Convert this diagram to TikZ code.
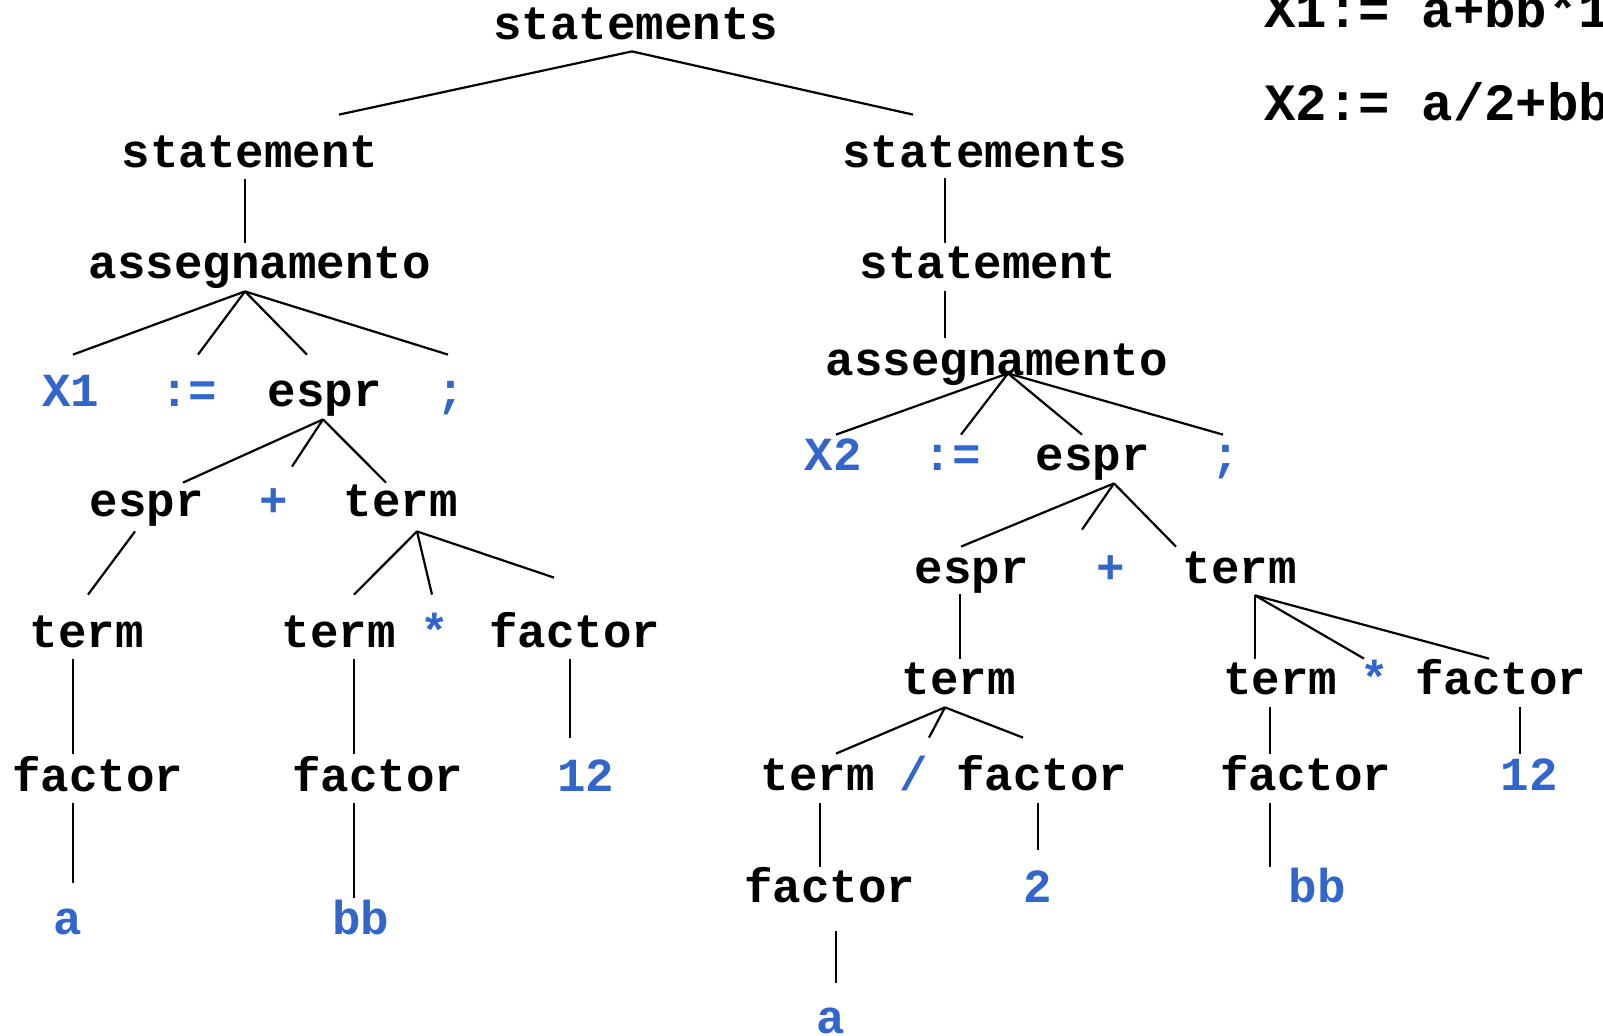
\documentclass[tikz,border=0pt]{standalone}
\usepackage{fontspec}
\newfontfamily\codefont{Liberation Mono}
\definecolor{tokblue}{RGB}{51,102,204}
\tikzset{
  nterm/.style={anchor=base,inner sep=0pt,text height=17.5pt,text depth=6pt,
    font=\codefont\bfseries\fontsize{23.75pt}{28pt}\selectfont},
  tok/.style={nterm,text=tokblue},
  branch/.style={line width=1.1pt}
}

\begin{document}
\begin{tikzpicture}[x=0.5pt,y=-0.5pt]
    \useasboundingbox (0,0) rectangle (1603,1035);
    \clip (0,0) rectangle (1603,1035);
    \node[nterm,anchor=base west,font=\codefont\bfseries\fontsize{26.2pt}{31pt}\selectfont] (src1) at (1264,27) {X1:= a+bb*12};
    \node[nterm,anchor=base west,font=\codefont\bfseries\fontsize{26.2pt}{31pt}\selectfont] (src2) at (1264,120) {X2:= a/2+bb*12};

    \node[nterm] (top) at (636,39) {statements};
    \node[nterm] (stL) at (250,167) {statement};
    \node[nterm] (asgL) at (260,278) {assegnamento};
    \node[tok] (xL) at (71,406) {X1};
    \node[tok] (asL) at (189,406) {:=};
    \node[nterm] (eL) at (325,406) {espr};
    \node[tok] (semiL) at (451,406) {;};
    \node[nterm] (eLa) at (147,516) {espr};
    \node[tok] (plusL) at (274,516) {+};
    \node[nterm] (tL) at (401,516) {term};
    \node[nterm] (tLa) at (87,647) {term};
    \node[nterm] (tLb) at (339,647) {term};
    \node[tok] (starL) at (435,647) {*};
    \node[nterm] (fLc) at (575,647) {factor};
    \node[nterm] (fLa) at (98,791) {factor};
    \node[nterm] (fLb) at (378,791) {factor};
    \node[tok] (twelveL) at (586,791) {12};
    \node[tok] (aL) at (68,934) {a};
    \node[tok] (bbL) at (361,934) {bb};

    \node[nterm] (stsR) at (985,167) {statements};
    \node[nterm] (stR) at (988,278) {statement};
    \node[nterm] (asgR) at (997,375) {assegnamento};
    \node[tok] (xR) at (833,470) {X2};
    \node[tok] (asR) at (952,470) {:=};
    \node[nterm] (eR) at (1093,470) {espr};
    \node[tok] (semiR) at (1226,470) {;};
    \node[nterm] (eRa) at (972,583) {espr};
    \node[tok] (plusR) at (1111,583) {+};
    \node[nterm] (tR) at (1240,583) {term};
    \node[nterm] (tRa) at (959,694) {term};
    \node[nterm] (tRc) at (1280,694) {term};
    \node[tok] (starR) at (1375,694) {*};
    \node[nterm] (fRc) at (1501,694) {factor};
    \node[nterm] (tRb) at (818,790) {term};
    \node[tok] (slashR) at (914,790) {/};
    \node[nterm] (fRb) at (1042,790) {factor};
    \node[nterm] (fRd) at (1306,790) {factor};
    \node[tok] (twelveR) at (1529,790) {12};
    \node[nterm] (fRa) at (830,902) {factor};
    \node[tok] (twoR) at (1038,902) {2};
    \node[tok] (bbR) at (1317,902) {bb};
    \node[tok] (aR) at (831,1033) {a};

    \draw[branch] ([shift={(-4,0)}]top.south) -- ([shift={(89,-17)}]stL.north);
    \draw[branch] ([shift={(-4,0)}]top.south) -- ([shift={(-72,-17)}]stsR.north);

    \draw[branch] ([shift={(-5,0)}]stL.south) -- ([shift={(-15,0)}]asgL.north);
    \draw[branch] ([shift={(-15,1)}]asgL.south) -- ([shift={(2,-16)}]xL.north);
    \draw[branch] ([shift={(-15,1)}]asgL.south) -- ([shift={(9,-16)}]asL.north);
    \draw[branch] ([shift={(-15,1)}]asgL.south) -- ([shift={(-18,-16)}]eL.north);
    \draw[branch] ([shift={(-15,1)}]asgL.south) -- ([shift={(-3,-16)}]semiL.north);
    \draw[branch] ([shift={(-2,1)}]eL.south) -- ([shift={(36,2)}]eLa.north);
    \draw[branch] ([shift={(-2,1)}]eL.south) -- ([shift={(18,-14)}]plusL.north);
    \draw[branch] ([shift={(-2,1)}]eL.south) -- ([shift={(-15,2)}]tL.north);
    \draw[branch] ([shift={(-12,3)}]eLa.south) -- ([shift={(1,-17)}]tLa.north);
    \draw[branch] ([shift={(16,3)}]tL.south) -- ([shift={(15,-17)}]tLb.north);
    \draw[branch] ([shift={(16,3)}]tL.south) -- ([shift={(-3,-17)}]starL.north);
    \draw[branch] ([shift={(16,3)}]tL.south) -- ([shift={(-21,-34)}]fLc.north);
    \draw[branch] ([shift={(-14,0)}]tLa.south) -- ([shift={(-25,-2)}]fLa.north);
    \draw[branch] ([shift={(-25,0)}]fLa.south) -- ([shift={(5,-16)}]aL.north);
    \draw[branch] ([shift={(15,0)}]tLb.south) -- ([shift={(-24,-2)}]fLb.north);
    \draw[branch] ([shift={(-24,0)}]fLb.south) -- ([shift={(-7,-1)}]bbL.north);
    \draw[branch] ([shift={(-5,0)}]fLc.south) -- ([shift={(-16,-18)}]twelveL.north);

    \draw[branch] ([shift={(-40,-1)}]stsR.south) -- ([shift={(-43,0)}]stR.north);
    \draw[branch] ([shift={(-43,1)}]stR.south) -- ([shift={(-52,-2)}]asgR.north);
    \draw[branch] ([shift={(11,-14)}]asgR.south) -- ([shift={(3,0)}]xR.north);
    \draw[branch] ([shift={(11,-14)}]asgR.south) -- ([shift={(9,0)}]asR.north);
    \draw[branch] ([shift={(11,-14)}]asgR.south) -- ([shift={(-11,0)}]eR.north);
    \draw[branch] ([shift={(11,-14)}]asgR.south) -- ([shift={(-3,0)}]semiR.north);
    \draw[branch] ([shift={(21,1)}]eR.south) -- ([shift={(-11,-1)}]eRa.north);
    \draw[branch] ([shift={(21,1)}]eR.south) -- ([shift={(-29,-18)}]plusR.north);
    \draw[branch] ([shift={(21,1)}]eR.south) -- ([shift={(-64,-1)}]tR.north);
    \draw[branch] ([shift={(-12,-1)}]eRa.south) -- ([shift={(1,0)}]tRa.north);
    \draw[branch] ([shift={(-14,1)}]tRa.south) -- ([shift={(18,-1)}]tRb.north);
    \draw[branch] ([shift={(-14,1)}]tRa.south) -- ([shift={(15,-17)}]slashR.north);
    \draw[branch] ([shift={(-14,1)}]tRa.south) -- ([shift={(-19,-17)}]fRb.north);
    \draw[branch] ([shift={(2,1)}]tRb.south) -- ([shift={(-10,0)}]fRa.north);
    \draw[branch] ([shift={(6,17)}]fRa.south) -- ([shift={(5,-15)}]aR.north);
    \draw[branch] ([shift={(-4,1)}]fRb.south) -- ([shift={(0,-17)}]twoR.north);
    \draw[branch] ([shift={(15,0)}]tR.south) -- ([shift={(-25,0)}]tRc.north);
    \draw[branch] ([shift={(15,0)}]tR.south) -- ([shift={(-11,0)}]starR.north);
    \draw[branch] ([shift={(15,0)}]tR.south) -- ([shift={(-12,0)}]fRc.north);
    \draw[branch] ([shift={(-10,1)}]tRc.south) -- ([shift={(-36,-1)}]fRd.north);
    \draw[branch] ([shift={(19,1)}]fRc.south) -- ([shift={(-9,-1)}]twelveR.north);
    \draw[branch] ([shift={(-36,1)}]fRd.south) -- ([shift={(-47,0)}]bbR.north);
\end{tikzpicture}
\end{document}
